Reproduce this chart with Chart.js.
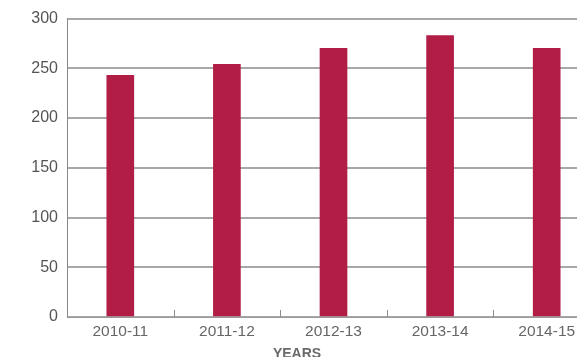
<!DOCTYPE html>
<html>
<head>
<meta charset="utf-8">
<script src="https://cdn.jsdelivr.net/npm/chart.js@4.4.1/dist/chart.umd.min.js"></script>
<style>
  html, body { margin: 0; padding: 0; background: #fff; overflow: hidden; }
  #wrap { width: 600px; height: 357px; }
</style>
</head>
<body>
<div id="wrap"><canvas id="yearChart" width="600" height="357"></canvas></div>
<script>
var years = ['2010-11', '2011-12', '2012-13', '2013-14', '2014-15'];
var values = [243, 254, 270, 283, 270];
var yTicks = [0, 50, 100, 150, 200, 250, 300];
var axisTitle = 'YEARS';

var labelFont = "'Liberation Sans Narrow', 'Arial Narrow', 'Liberation Sans', Arial, sans-serif";

// short tick marks between categories, standing up from the x axis
var boundaryTicks = {
  id: 'boundaryTicks',
  afterDatasetsDraw: function(chart) {
    var ctx = chart.ctx, x = chart.scales.x, area = chart.chartArea;
    ctx.save();
    ctx.strokeStyle = '#8a8a8a';
    ctx.lineWidth = 1;
    for (var i = 1; i < years.length; i++) {
      var px = Math.round((x.getPixelForTick(i - 1) + x.getPixelForTick(i)) / 2) + 0.5;
      ctx.beginPath();
      ctx.moveTo(px, area.bottom);
      ctx.lineTo(px, area.bottom - 7);
      ctx.stroke();
    }
    ctx.restore();
  }
};

// axis title sits left of the plot centre
var yearsTitle = {
  id: 'yearsTitle',
  afterDraw: function(chart) {
    var ctx = chart.ctx;
    ctx.save();
    ctx.font = "bold 14px 'Liberation Sans', Arial, sans-serif";
    ctx.fillStyle = '#6a6a6a';
    ctx.textAlign = 'center';
    ctx.textBaseline = 'alphabetic';
    ctx.fillText(axisTitle, chart.chartArea.left + 230, 358);
    ctx.restore();
  }
};

var ctx = document.getElementById('yearChart').getContext('2d');
var chart = new Chart(ctx, {
  type: 'bar',
  data: {
    labels: years,
    datasets: [{
      data: values,
      backgroundColor: '#b11d45',
      borderWidth: 0,
      barThickness: 27
    }]
  },
  options: {
    responsive: false,
    animation: false,
    layout: { padding: { top: 16, right: 0, bottom: 0, left: 0 } },
    plugins: { legend: { display: false }, tooltip: { enabled: false } },
    scales: {
      x: {
        afterFit: function(s) { s.height = 40; },
        grid: { display: false },
        border: { display: true, color: '#999', width: 1 },
        ticks: { color: '#666', padding: -3, font: { family: labelFont, size: 15.5 } }
      },
      y: {
        min: 0,
        max: 300,
        afterFit: function(s) { s.width = 67; },
        afterBuildTicks: function(s) { s.ticks = yTicks.map(function(v) { return { value: v }; }); },
        grid: { color: '#a8a8a8', lineWidth: 2, drawTicks: false },
        border: { display: true, color: '#8a8a8a', width: 1 },
        ticks: { color: '#555', padding: 9, font: { family: labelFont, size: 16 } }
      }
    }
  },
  plugins: [boundaryTicks, yearsTitle]
});
</script>
</body>
</html>
